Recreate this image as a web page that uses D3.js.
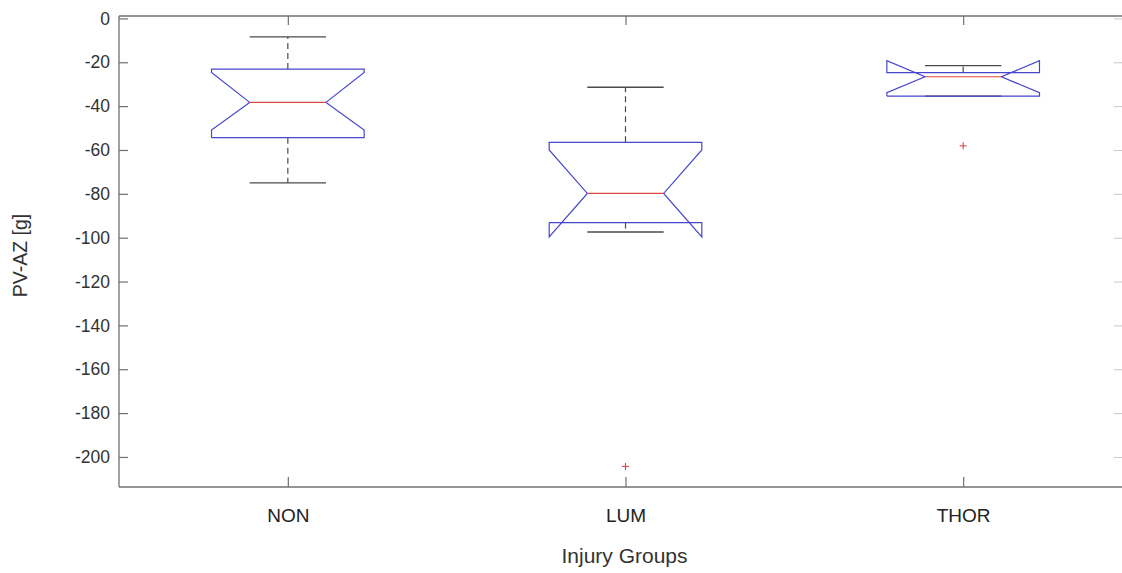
<!DOCTYPE html>
<html>
<head>
<meta charset="utf-8">
<script src="https://cdn.jsdelivr.net/npm/d3@7"></script>
<style>
  html, body { margin: 0; padding: 0; background: #fff; }
  svg { display: block; }
</style>
</head>
<body>
<svg id="chart" width="1122" height="573"></svg>
<script>
// ---- data ----
const categories = ["NON", "LUM", "THOR"];
const q1 = [-54.4, -93.1, -35.4];
const medians = [-38.3, -79.8, -26.6];
const q3 = [-23.1, -56.5, -24.7];
const whiskerLow = [-75.0, -97.4, -35.4];
const whiskerHigh = [-8.4, -31.4, -21.5];
const notchLow = [-50.9, -99.6, -33.9];
const notchHigh = [-24.7, -60.0, -19.3];
const outlierGroups = ["LUM", "THOR"];
const outlierValues = [-204.3, -58.1];
const yTicks = [0, -20, -40, -60, -80, -100, -120, -140, -160, -180, -200];
const yLabel = "PV-AZ [g]";
const xLabel = "Injury Groups";

(function () {
// ---- layout ----
const W = 1122, H = 573;
const plotLeft = 119, plotTop = 16, plotBottom = 487, plotRight = 1132;
const svg = d3.select("#chart");

const x = d3.scaleLinear().domain([0.5, 3.5]).range([plotLeft, plotRight]);
const y = d3.scaleLinear().domain([-213.7, 1.1]).range([plotBottom, plotTop]);
const pos = d => x(categories.indexOf(d) + 1);

const boxHalf = 0.226;   // in x units
const notchHalf = boxHalf / 2;
const axisColor = "#707070";
const boxColor = "#4646cc";
const medColor = "#e04444";
const whiskColor = "#4a4a4a";

// ---- frame ----
const frame = svg.append("g").attr("stroke", axisColor).attr("stroke-width", 1.3).attr("fill", "none");
frame.append("line").attr("x1", plotLeft).attr("x2", W + 2).attr("y1", plotTop).attr("y2", plotTop);
frame.append("line").attr("x1", plotLeft).attr("x2", W + 2).attr("y1", plotBottom).attr("y2", plotBottom);
frame.append("line").attr("x1", plotLeft).attr("x2", plotLeft).attr("y1", plotTop).attr("y2", plotBottom);

// y axis ticks + labels (left)
const yAxis = d3.axisLeft(y).tickValues(yTicks).tickSize(-9).tickPadding(9).tickFormat(d => String(d));
const gy = svg.append("g").attr("transform", `translate(${plotLeft},0)`).call(yAxis);
gy.select(".domain").remove();
gy.selectAll(".tick line").attr("stroke", axisColor).attr("stroke-width", 1.2);
gy.selectAll(".tick text")
  .attr("fill", "#333")
  .style("font-family", "'Liberation Sans', Arial, sans-serif")
  .style("font-size", "17.5px");

// right-side inward ticks (frame is cropped at the right edge)
const gyr = svg.append("g").attr("transform", `translate(${W + 1},0)`)
  .call(d3.axisRight(y).tickValues(yTicks).tickSize(-9).tickFormat(""));
gyr.select(".domain").remove();
gyr.selectAll(".tick line").attr("stroke", "#c8c8c8").attr("stroke-width", 1);

// x axis ticks + labels (bottom)
const xAxis = d3.axisBottom(x).tickValues([1, 2, 3]).tickSize(-10).tickPadding(22)
  .tickFormat((d, i) => categories[i]);
const gx = svg.append("g").attr("transform", `translate(0,${plotBottom})`).call(xAxis);
gx.select(".domain").remove();
gx.selectAll(".tick line").attr("stroke", axisColor).attr("stroke-width", 1.2);
gx.selectAll(".tick text")
  .attr("fill", "#222")
  .style("font-family", "'Liberation Sans', Arial, sans-serif")
  .style("font-size", "19px");

// top inward ticks
const gxt = svg.append("g").attr("transform", `translate(0,${plotTop})`)
  .call(d3.axisTop(x).tickValues([1, 2, 3]).tickSize(-9).tickFormat(""));
gxt.select(".domain").remove();
gxt.selectAll(".tick line").attr("stroke", axisColor).attr("stroke-width", 1.2);

// ---- boxes ----
const boxes = categories.map((c, i) => ({
  c, i, q1: q1[i], med: medians[i], q3: q3[i],
  lo: whiskerLow[i], hi: whiskerHigh[i], nlo: notchLow[i], nhi: notchHigh[i]
}));

const g = svg.append("g");
boxes.forEach(b => {
  const cx = b.i + 1;
  const L = cx - boxHalf, R = cx + boxHalf, NL = cx - notchHalf, NR = cx + notchHalf;
  // whiskers (dashed)
  const dash = g.append("g").attr("stroke", whiskColor).attr("stroke-width", 1.2).attr("stroke-dasharray", "6,4");
  if (b.hi > b.q3) dash.append("line").attr("x1", x(cx)).attr("x2", x(cx)).attr("y1", y(b.q3)).attr("y2", y(b.hi));
  if (b.lo < b.q1) dash.append("line").attr("x1", x(cx)).attr("x2", x(cx)).attr("y1", y(b.q1)).attr("y2", y(b.lo));
  // caps
  g.append("line").attr("x1", x(NL)).attr("x2", x(NR)).attr("y1", y(b.hi)).attr("y2", y(b.hi))
    .attr("stroke", whiskColor).attr("stroke-width", 1.3);
  g.append("line").attr("x1", x(NL)).attr("x2", x(NR)).attr("y1", y(b.lo)).attr("y2", y(b.lo))
    .attr("stroke", whiskColor).attr("stroke-width", 1.3);
  // notched box polygon (MATLAB style)
  const pts = [
    [L, b.q1], [L, b.nlo], [NL, b.med], [L, b.nhi], [L, b.q3],
    [R, b.q3], [R, b.nhi], [NR, b.med], [R, b.nlo], [R, b.q1], [L, b.q1]
  ];
  g.append("path")
    .attr("d", d3.line().x(p => x(p[0])).y(p => y(p[1]))(pts))
    .attr("fill", "none").attr("stroke", boxColor).attr("stroke-width", 1.2)
    .attr("stroke-linejoin", "miter");
  // median
  g.append("line").attr("x1", x(NL)).attr("x2", x(NR)).attr("y1", y(b.med)).attr("y2", y(b.med))
    .attr("stroke", medColor).attr("stroke-width", 1.2);
});

// outliers
outlierValues.forEach((v, i) => {
  const px = pos(outlierGroups[i]), py = y(v), s = 3.5;
  const o = g.append("g").attr("stroke", medColor).attr("stroke-width", 1.1);
  o.append("line").attr("x1", px - s).attr("x2", px + s).attr("y1", py).attr("y2", py);
  o.append("line").attr("x1", px).attr("x2", px).attr("y1", py - s).attr("y2", py + s);
});

// axis titles
svg.append("text")
  .attr("x", (plotLeft + plotRight) / 2 - 1).attr("y", 563)
  .attr("text-anchor", "middle")
  .attr("fill", "#333")
  .style("font-family", "'Liberation Sans', Arial, sans-serif")
  .style("font-size", "21px")
  .text(xLabel);

svg.append("text")
  .attr("transform", `translate(27,${(plotTop + plotBottom) / 2 + 4}) rotate(-90)`)
  .attr("text-anchor", "middle")
  .attr("fill", "#333")
  .style("font-family", "'Liberation Sans', Arial, sans-serif")
  .style("font-size", "19.5px")
  .text(yLabel);
})();
</script>
</body>
</html>
